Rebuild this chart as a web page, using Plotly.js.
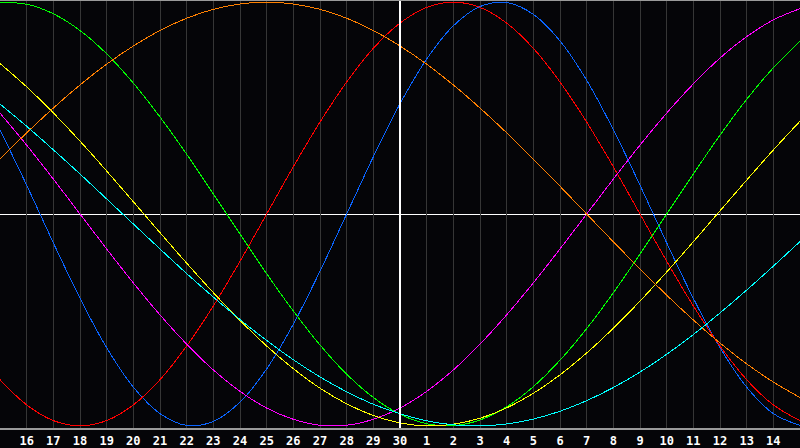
<!DOCTYPE html>
<html>
<head>
<meta charset="utf-8">
<script src="https://cdn.plot.ly/plotly-3.0.1.min.js"></script>
<style>
html,body{margin:0;padding:0;background:#050508;}
#chart{width:800px;height:448px;}
#chart .scatterlayer path, #chart .layer-below path, #chart .layer-between path, #chart .layer-above path, #chart .gridlayer path {shape-rendering:crispEdges;}
</style>
</head>
<body>
<div id="chart"></div>
<script>
// Day labels along the x axis (previous month 15..30, current month 1..15)
const days = [15,16,17,18,19,20,21,22,23,24,25,26,27,28,29,30,1,2,3,4,5,6,7,8,9,10,11,12,13,14,15];
const todayIndex = 15;

// Biorhythm cycle values read per day (-1..1)
const physical = [0.398,0.136,-0.136,-0.398,-0.631,-0.817,-0.942,-0.998,-0.979,-0.888,-0.731,-0.520,-0.270,0,0.270,0.520,0.731,0.888,0.979,0.998,0.942,0.817,0.631,0.398,0.136,-0.136,-0.398,-0.631,-0.817,-0.942,-0.998];
const emotional = [-0.782,-0.901,-0.975,-1.000,-0.975,-0.901,-0.782,-0.623,-0.434,-0.223,0,0.223,0.434,0.623,0.782,0.901,0.975,1.000,0.975,0.901,0.782,0.623,0.434,0.223,0,-0.223,-0.434,-0.623,-0.782,-0.901,-0.975];
const intellectual = [0.999,0.990,0.945,0.866,0.756,0.618,0.458,0.282,0.095,-0.095,-0.282,-0.458,-0.618,-0.756,-0.866,-0.945,-0.990,-0.999,-0.972,-0.910,-0.815,-0.690,-0.541,-0.372,-0.189,0,0.189,0.372,0.541,0.690,0.815];
const intuitive = [0.476,0.325,0.165,0,-0.165,-0.325,-0.476,-0.614,-0.736,-0.837,-0.916,-0.969,-0.997,-0.997,-0.969,-0.916,-0.837,-0.736,-0.614,-0.476,-0.325,-0.165,0,0.165,0.325,0.476,0.614,0.736,0.837,0.916,0.969];
const aesthetic = [0.710,0.600,0.477,0.344,0.203,0.058,-0.088,-0.232,-0.371,-0.502,-0.623,-0.730,-0.822,-0.896,-0.951,-0.986,-1.000,-0.992,-0.964,-0.915,-0.846,-0.759,-0.656,-0.539,-0.411,-0.274,-0.131,0.015,0.160,0.302,0.438];
const awareness = [0.259,0.383,0.500,0.609,0.707,0.793,0.866,0.924,0.966,0.991,1.000,0.991,0.966,0.924,0.866,0.793,0.707,0.609,0.500,0.383,0.259,0.131,0,-0.131,-0.259,-0.383,-0.500,-0.609,-0.707,-0.793,-0.866];
const spiritual = [0.519,0.414,0.303,0.189,0.071,-0.047,-0.165,-0.281,-0.392,-0.498,-0.597,-0.688,-0.769,-0.839,-0.898,-0.943,-0.976,-0.995,-1.000,-0.991,-0.968,-0.931,-0.881,-0.819,-0.746,-0.662,-0.569,-0.467,-0.359,-0.246,-0.130];

const seriesNames = ['Physical','Emotional','Intellectual','Intuitive','Aesthetic','Awareness','Spiritual'];
const seriesData = [physical, emotional, intellectual, intuitive, aesthetic, awareness, spiritual];
const seriesColors = ['#0a64ff','#ff0000','#00ff00','#ff00ff','#ffff00','#ff8000','#00ffff'];

const xs = days.map((d,i)=>i);
const tickIdx = xs.slice(1, xs.length-1);
const tickTxt = tickIdx.map(i=>String(days[i]));

const traces = seriesData.map((vals,k)=>({
  x: xs, y: vals, type:'scatter', mode:'lines', name: seriesNames[k],
  line:{color:seriesColors[k], width:1, shape:'spline', smoothing:1},
  hoverinfo:'skip'
}));

const layout = {
  width:800, height:448,
  margin:{l:0,r:0,t:0,b:20,pad:0},
  paper_bgcolor:'#050508', plot_bgcolor:'#050508',
  showlegend:false,
  xaxis:{
    range:[0, xs.length-1], fixedrange:true,
    tickvals: tickIdx, ticktext: tickTxt,
    showgrid:true, gridcolor:'#363636', gridwidth:1,
    zeroline:false, showline:true, linecolor:'#9a9a9a', linewidth:2, mirror:false,
    ticks:'', ticklabelstandoff:1,
    tickfont:{family:'DejaVu Sans Mono, monospace', size:12, color:'#ffffff', weight:'bold'}
  },
  yaxis:{
    range:[-1.01, 1.01], fixedrange:true,
    showgrid:false, zeroline:false, showticklabels:false, ticks:'',
    showline:true, linecolor:'#9a9a9a', linewidth:2
  },
  shapes:[
    {type:'line', xref:'x', yref:'paper', x0:todayIndex, x1:todayIndex, y0:0, y1:1, line:{color:'#ffffff', width:1.5}, layer:'above'},
    {type:'line', xref:'paper', yref:'y', x0:0, x1:1, y0:0, y1:0, line:{color:'#ffffff', width:1}, layer:'below'},
    {type:'line', xref:'paper', yref:'paper', x0:0, x1:1, y0:1, y1:1, line:{color:'#9a9a9a', width:2}, layer:'above'}
  ]
};

Plotly.newPlot('chart', traces, layout, {staticPlot:true, displayModeBar:false});
</script>
</body>
</html>
